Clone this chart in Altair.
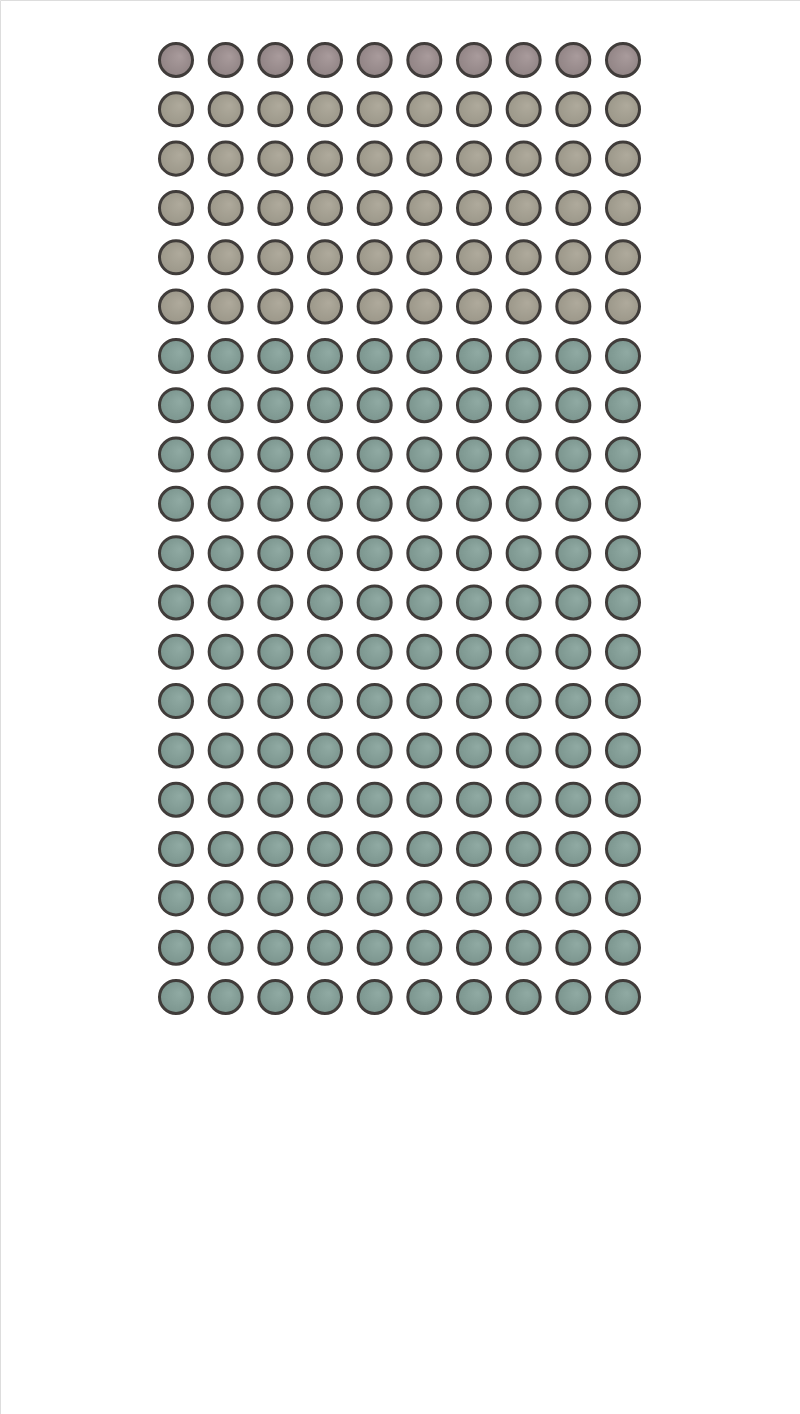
import altair as alt
import pandas as pd

categories = ["Group A", "Group B", "Group C"]
counts = [10, 50, 140]
edge_colors = ["#8f8283", "#9a9688", "#7a948d"]
center_colors = ["#a99b9c", "#afaa9c", "#90aaa3"]
n_cols = 10

rows = []
i = 0
for cat, n in zip(categories, counts):
    for _ in range(n):
        rows.append({"category": cat, "col": i % n_cols, "row": i // n_cols})
        i += 1
df = pd.DataFrame(rows)
n_rows = (i + n_cols - 1) // n_cols

layers = []
for cat, ec, cc in zip(categories, edge_colors, center_colors):
    grad = {
        "gradient": "radial",
        "x1": 0.62, "y1": 0.38, "r1": 0.0,
        "x2": 0.5, "y2": 0.5, "r2": 0.55,
        "stops": [
            {"offset": 0.0, "color": cc},
            {"offset": 1.0, "color": ec},
        ],
    }
    layer = (
        alt.Chart(df)
        .transform_filter(alt.datum.category == cat)
        .mark_point(shape="circle", filled=True, fill=grad, stroke="#403c3a",
                    strokeWidth=3, size=1090, opacity=1)
        .encode(
            x=alt.X("col:Q", axis=None,
                    scale=alt.Scale(domain=[0, n_cols - 1], range=[176, 623])),
            y=alt.Y("row:Q", axis=None,
                    scale=alt.Scale(domain=[0, n_rows - 1], range=[60, 997])),
            tooltip=["category:N"],
        )
    )
    layers.append(layer)

chart = (
    alt.layer(*layers)
    .properties(width=800, height=1414, padding=0,
                autosize=alt.AutoSizeParams(type="none"))
    .configure_view(stroke=None)
    .configure(background="white")
)

chart.save("out.html", embed_options={"renderer": "svg", "actions": False})
